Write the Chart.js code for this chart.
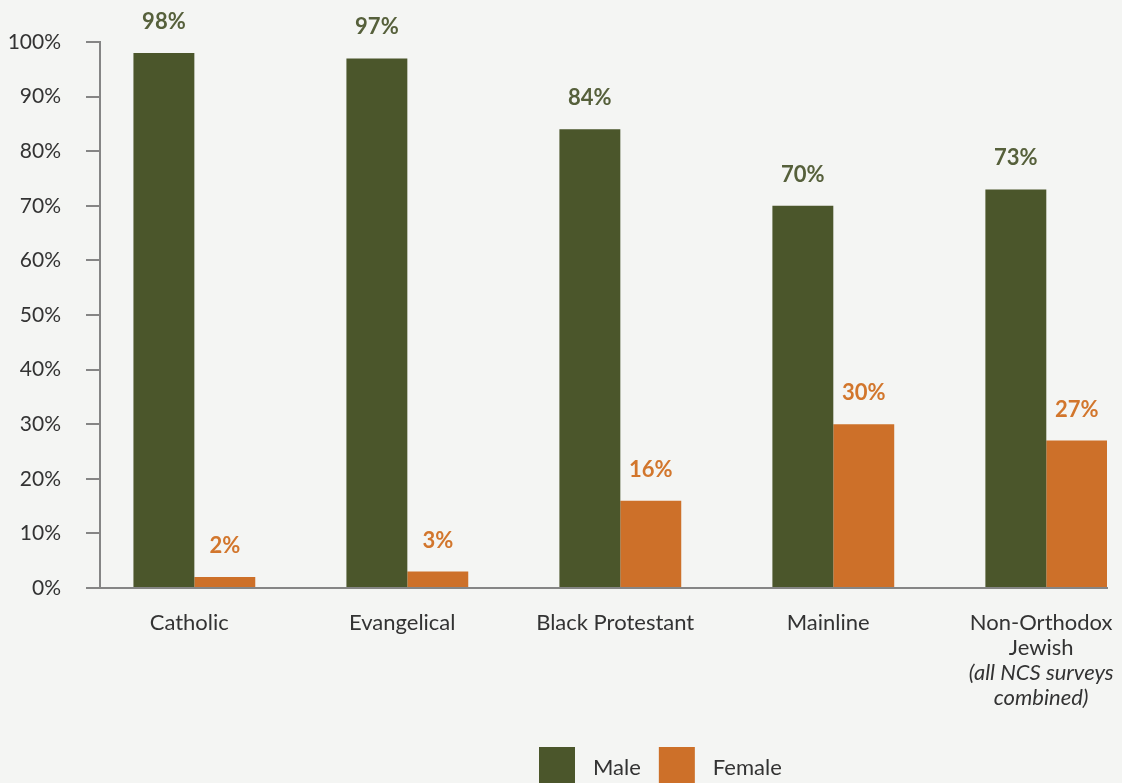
<!DOCTYPE html>
<html><head><meta charset="utf-8">
<script src="https://cdn.jsdelivr.net/npm/chart.js@4/dist/chart.umd.min.js"></script>
<style>
html,body{margin:0;padding:0;background:#f4f5f3;overflow:hidden;}
#wrap{position:relative;width:1122px;height:783px;}
canvas{display:block;}
</style></head><body>
<div id="wrap"><canvas id="c" width="1122" height="783"></canvas></div>
<script>
// ---- data ----
const categories = [['Catholic'], ['Evangelical'], ['Black Protestant'], ['Mainline'], ['Non-Orthodox', 'Jewish']];
const categoryNotes = [[], [], [], [], ['(all NCS surveys', 'combined)']];
const seriesNames = ['Male', 'Female'];
const maleValues = [98, 97, 84, 70, 73];
const femaleValues = [2, 3, 16, 30, 27];
const yTickValues = [0, 10, 20, 30, 40, 50, 60, 70, 80, 90, 100];

// ---- style ----
const FONT = 'Lato, "Open Sans", sans-serif';
const GREEN = '#4b562b', ORANGE = '#cd7029';
const GREEN_TXT = '#56603b', ORANGE_TXT = '#d2762c';
const AXIS = '#858585', TXT = '#333333';

const dataLabels = {
  id: 'dataLabels',
  afterDatasetsDraw(chart) {
    const ctx = chart.ctx;
    ctx.save();
    ctx.font = 'bold 22px ' + FONT;
    ctx.textAlign = 'center';
    ctx.textBaseline = 'alphabetic';
    chart.data.datasets.forEach((ds, di) => {
      const meta = chart.getDatasetMeta(di);
      ctx.fillStyle = di === 0 ? GREEN_TXT : ORANGE_TXT;
      meta.data.forEach((el, i) => {
        ctx.fillText(Math.round(ds.data[i].y) + '%', el.x, el.y - 24);
      });
    });
    ctx.restore();
  }
};

const notesAndLegend = {
  id: 'notesAndLegend',
  afterDraw(chart) {
    const ctx = chart.ctx;
    const xs = chart.scales.x;
    ctx.save();
    // italic notes under category labels
    ctx.font = 'italic 22px ' + FONT;
    ctx.fillStyle = TXT;
    ctx.textAlign = 'center';
    ctx.textBaseline = 'middle';
    xs.ticks.forEach((t, i) => {
      const px = xs.getPixelForValue(t.value);
      const first = categories[i].length;
      categoryNotes[i].forEach((line, j) => {
        ctx.fillText(line, px, 623 + (first + j) * 25);
      });
    });
    // legend
    ctx.font = '22px ' + FONT;
    ctx.textAlign = 'left';
    let x = 539;
    chart.data.datasets.forEach(ds => {
      ctx.fillStyle = ds.backgroundColor;
      ctx.fillRect(x, 747, 36, 36);
      x += 36 + 18;
      ctx.fillStyle = TXT;
      ctx.fillText(ds.label, x, 768);
      x += ctx.measureText(ds.label).width + 18;
    });
    ctx.restore();
  }
};

new Chart(document.getElementById('c'), {
  type: 'bar',
  data: {
    datasets: [
      { label: seriesNames[0], data: maleValues.map((v, i) => ({ x: i, y: v })), backgroundColor: GREEN },
      { label: seriesNames[1], data: femaleValues.map((v, i) => ({ x: i, y: v })), backgroundColor: ORANGE }
    ]
  },
  options: {
    responsive: false,
    animation: false,
    devicePixelRatio: 1,
    categoryPercentage: 0.572,
    barPercentage: 1,
    layout: { padding: { top: 42, right: 15, bottom: 0, left: 0 } },
    plugins: { legend: { display: false }, tooltip: { enabled: false } },
    scales: {
      x: {
        type: 'linear',
        min: -0.443, max: 4.285,
        offset: false,
        afterBuildTicks: s => { s.ticks = categories.map((c, i) => ({ value: i - 0.024 })); },
        afterFit: s => { s.height = 195; s.paddingLeft = 0; s.paddingRight = 0; },
        grid: { display: false, drawTicks: false },
        border: { display: true, color: AXIS, width: 2 },
        ticks: {
          autoSkip: false, maxRotation: 0, minRotation: 0,
          padding: 22,
          color: TXT,
          font: { family: FONT, size: 22, lineHeight: 25 / 22 },
          callback: (v, i) => categories[i]
        }
      },
      y: {
        min: 0, max: 100,
        afterBuildTicks: s => { s.ticks = yTickValues.map(v => ({ value: v })); },
        afterFit: s => { s.width = 100; s.paddingTop = 0; s.paddingBottom = 0; },
        grid: { drawOnChartArea: false, drawTicks: true, tickLength: 14, color: AXIS, lineWidth: 2 },
        border: { display: true, color: AXIS, width: 2 },
        ticks: {
          padding: 25,
          color: TXT,
          font: { family: FONT, size: 21 },
          callback: v => v + '%'
        }
      }
    }
  },
  plugins: [dataLabels, notesAndLegend]
});
</script>
</body></html>
